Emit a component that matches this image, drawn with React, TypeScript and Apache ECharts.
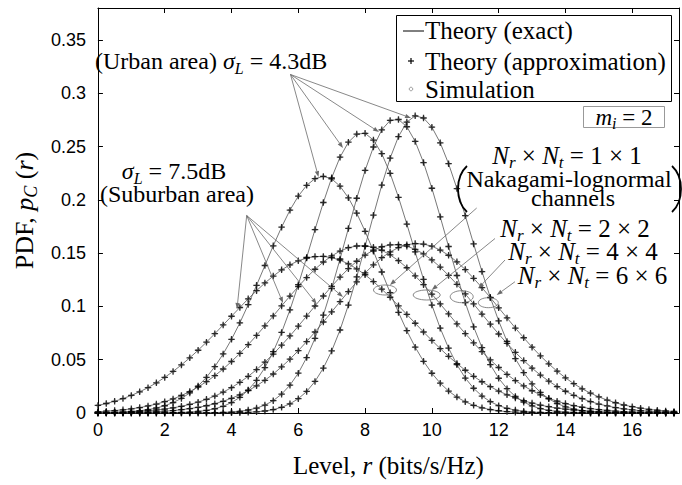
import React, { useEffect, useRef } from "react";
import * as echarts from "echarts";

// ---------- data ----------
const levels = [0,0.25,0.5,0.75,1,1.25,1.5,1.75,2,2.25,2.5,2.75,3,3.25,3.5,3.75,4,4.25,4.5,4.75,5,5.25,5.5,5.75,6,6.25,6.5,6.75,7,7.25,7.5,7.75,8,8.25,8.5,8.75,9,9.25,9.5,9.75,10,10.25,10.5,10.75,11,11.25,11.5,11.75,12,12.25,12.5,12.75,13,13.25,13.5,13.75,14,14.25,14.5,14.75,15,15.25,15.5,15.75,16,16.25,16.5,16.75,17,17.25];

// Urban area, sigma_L = 4.3 dB
const urban1x1 = [0.0002,0.0003,0.0005,0.0009,0.0014,0.0021,0.0032,0.0047,0.0068,0.0098,0.0137,0.0188,0.0253,0.0335,0.0435,0.0554,0.0691,0.0846,0.1017,0.1198,0.1384,0.1569,0.1744,0.1903,0.2035,0.2136,0.2199,0.222,0.2197,0.2128,0.2019,0.1875,0.1705,0.1518,0.1323,0.1129,0.0944,0.0772,0.0618,0.0485,0.0373,0.028,0.0206,0.0149,0.0105,0.0072,0.0049,0.0032,0.0021,0.0013,0.0008,0.0005,0.0003,0.0002,0.0001,0,0,0,0,0,0,0,0,0,0,0,0,0,0,0];
const urban2x2 = [0,0,0,0,0,0,0,0,0.0001,0.0003,0.0005,0.0008,0.0015,0.0024,0.004,0.0063,0.0098,0.0147,0.0215,0.0307,0.0426,0.0575,0.0756,0.0967,0.1204,0.1459,0.1721,0.1975,0.2207,0.24,0.2541,0.2617,0.2624,0.2561,0.2433,0.2249,0.2024,0.1773,0.1511,0.1254,0.1013,0.0796,0.0609,0.0453,0.0328,0.0232,0.0159,0.0106,0.0069,0.0044,0.0027,0.0016,0.0009,0.0005,0.0003,0.0002,0.0001,0,0,0,0,0,0,0,0,0,0,0,0,0];
const urban4x4 = [0,0,0,0,0,0,0,0,0,0,0,0,0,0,0.0003,0.0005,0.0009,0.0016,0.0028,0.0046,0.0074,0.0116,0.0177,0.0261,0.0374,0.052,0.0701,0.0919,0.117,0.1445,0.1732,0.2015,0.2276,0.2496,0.2657,0.2745,0.2754,0.2686,0.2548,0.235,0.2109,0.1841,0.1562,0.129,0.1036,0.0809,0.0614,0.0454,0.0326,0.0228,0.0155,0.0102,0.0066,0.0041,0.0025,0.0015,0.0009,0.0005,0.0003,0.0001,0.0001,0,0,0,0,0,0,0,0,0];
const urban6x6 = [0,0,0,0,0,0,0,0,0,0,0,0,0,0,0,0,0.0002,0.0003,0.0006,0.0011,0.0019,0.0032,0.0053,0.0086,0.0134,0.0202,0.0296,0.0421,0.0582,0.0779,0.1013,0.1277,0.1563,0.1856,0.2139,0.2391,0.2594,0.273,0.2788,0.2768,0.2682,0.2535,0.2339,0.2106,0.1851,0.1586,0.1327,0.1084,0.0864,0.0672,0.051,0.0378,0.0273,0.0193,0.0133,0.0089,0.0058,0.0037,0.0023,0.0014,0.0008,0.0005,0.0003,0.0002,0.0001,0,0,0,0,0];

// Suburban area, sigma_L = 7.5 dB
const suburban1x1 = [0.0071,0.0089,0.011,0.0135,0.0165,0.0199,0.0238,0.0283,0.0334,0.039,0.0451,0.0518,0.0589,0.0665,0.0744,0.0826,0.0908,0.099,0.1071,0.1148,0.122,0.1285,0.1343,0.139,0.1428,0.1454,0.1468,0.1469,0.1458,0.1434,0.1399,0.1353,0.1297,0.1233,0.1162,0.1086,0.1006,0.0925,0.0842,0.076,0.0681,0.0604,0.0532,0.0464,0.0401,0.0344,0.0293,0.0247,0.0206,0.0171,0.0141,0.0115,0.0093,0.0074,0.0059,0.0046,0.0036,0.0028,0.0021,0.0016,0.0012,0.0009,0.0007,0.0005,0.0004,0.0003,0.0002,0.0001,0.0001,0.0001];
const suburban2x2 = [0.0012,0.0017,0.0023,0.003,0.0039,0.0051,0.0066,0.0084,0.0106,0.0132,0.0164,0.0201,0.0244,0.0294,0.035,0.0413,0.0483,0.0559,0.0641,0.0728,0.0818,0.0911,0.1005,0.1097,0.1187,0.1271,0.1349,0.1417,0.1474,0.1519,0.1551,0.1567,0.1569,0.1555,0.1527,0.1484,0.1429,0.1363,0.1287,0.1204,0.1115,0.1023,0.093,0.0836,0.0745,0.0658,0.0575,0.0498,0.0427,0.0362,0.0304,0.0254,0.0209,0.0171,0.0138,0.0111,0.0088,0.0069,0.0054,0.0041,0.0032,0.0024,0.0018,0.0013,0.001,0.0007,0.0005,0.0004,0.0003,0.0002];
const suburban4x4 = [0.0003,0.0004,0.0006,0.0008,0.0012,0.0016,0.0021,0.0028,0.0037,0.0049,0.0063,0.008,0.0102,0.0128,0.0159,0.0196,0.0238,0.0288,0.0344,0.0407,0.0477,0.0553,0.0636,0.0723,0.0815,0.0909,0.1004,0.1098,0.1189,0.1275,0.1354,0.1424,0.1482,0.1528,0.156,0.1577,0.1579,0.1565,0.1536,0.1493,0.1436,0.1369,0.1291,0.1207,0.1117,0.1023,0.0928,0.0833,0.0741,0.0653,0.0569,0.0492,0.0421,0.0356,0.0299,0.0248,0.0204,0.0166,0.0134,0.0107,0.0084,0.0066,0.0051,0.0039,0.003,0.0022,0.0017,0.0012,0.0009,0.0007];
const suburban6x6 = [0.0001,0.0002,0.0002,0.0003,0.0005,0.0007,0.0009,0.0013,0.0017,0.0023,0.0031,0.0041,0.0053,0.0068,0.0087,0.011,0.0138,0.0171,0.021,0.0255,0.0307,0.0366,0.0433,0.0505,0.0585,0.067,0.076,0.0854,0.0949,0.1045,0.1139,0.123,0.1314,0.139,0.1457,0.1511,0.1552,0.1579,0.159,0.1585,0.1565,0.1529,0.148,0.1418,0.1346,0.1264,0.1176,0.1083,0.0987,0.0892,0.0797,0.0706,0.0618,0.0536,0.0461,0.0392,0.033,0.0275,0.0227,0.0186,0.0151,0.0121,0.0096,0.0075,0.0059,0.0045,0.0034,0.0026,0.0019,0.0014];

const curves = [urban1x1, urban2x2, urban4x4, urban6x6, suburban1x1, suburban2x2, suburban4x4, suburban6x6];

// ---------- styling helpers ----------
const SERIF = '"Liberation Serif", "Times New Roman", serif';
const SANS = '"Liberation Sans", Arial, sans-serif';
const PLUS = "path://M4,0h2v4h4v2h-4v4h-2v-4h-4v-2h4z";

function richFor(fs: number, useFill: boolean, lh?: number) {
  const lineH = lh ?? Math.round(fs * 1.25);
  const sub = Math.round(fs * 0.68);
  const col = useFill ? { fill: "#000" } : { color: "#000" };
  return {
    i: { fontFamily: SERIF, fontSize: fs, fontStyle: "italic", lineHeight: lineH, ...col },
    s: { fontFamily: SERIF, fontSize: sub, fontStyle: "italic", lineHeight: sub, verticalAlign: "bottom", ...col },
  };
}

function txt(x: number, y: number, text: string, fs: number, align: string = "left") {
  const lineH = Math.round(fs * 1.25);
  return {
    type: "text",
    x,
    y,
    silent: true,
    z: 100,
    style: {
      text,
      font: `${fs}px ${SERIF}`,
      fontFamily: SERIF,
      fontSize: fs,
      lineHeight: lineH,
      fill: "#000",
      align,
      verticalAlign: "middle",
      textAlign: align,
      textVerticalAlign: "middle",
      rich: richFor(fs, true, lineH),
    },
  };
}

function arrow(x1: number, y1: number, x2: number, y2: number) {
  const a = Math.atan2(y2 - y1, x2 - x1);
  const L = 6;
  const W = 2.2;
  const bx = x2 - L * Math.cos(a);
  const by = y2 - L * Math.sin(a);
  const px = -Math.sin(a) * W;
  const py = Math.cos(a) * W;
  return [
    { type: "line", silent: true, z: 90, shape: { x1, y1, x2: bx, y2: by }, style: { stroke: "#6a6a6a", lineWidth: 0.8 } },
    { type: "polygon", silent: true, z: 90, shape: { points: [[x2, y2], [bx + px, by + py], [bx - px, by - py]] }, style: { fill: "#6a6a6a" } },
  ];
}

function ellipse(cx: number, cy: number, rx: number, ry: number) {
  return { type: "ellipse", silent: true, z: 90, shape: { cx, cy, rx, ry }, style: { fill: "none", stroke: "#6a6a6a", lineWidth: 0.8 } };
}

function paren(xEnd: number, xMid: number) {
  return {
    type: "bezierCurve",
    silent: true,
    z: 100,
    shape: { x1: xEnd, y1: 166, cpx1: xMid, cpy1: 177, cpx2: xMid, cpy2: 201, x2: xEnd, y2: 212 },
    style: { fill: "none", stroke: "#000", lineWidth: 1.8 },
  };
}

function buildOption() {
  const points: number[][] = [];
  curves.forEach((c) => levels.forEach((x, i) => points.push([x, c[i]])));

  const lineSeries = curves.map((c) => ({
    type: "line",
    data: levels.map((x, i) => [x, c[i]]),
    symbol: "none",
    silent: true,
    z: 2,
    lineStyle: { color: "#555", width: 0.8 },
  }));

  const axisLineStyle = { show: true, onZero: false, lineStyle: { color: "#000", width: 1 } };
  const tickStyle = { inside: true, length: 5, lineStyle: { color: "#000", width: 1 } };

  const graphics: any[] = [];
  // legend
  graphics.push({ type: "rect", z: 95, silent: true, shape: { x: 396.5, y: 15.5, width: 275, height: 86 }, style: { fill: "#fff", stroke: "#000", lineWidth: 1 } });
  graphics.push({ type: "line", z: 96, silent: true, shape: { x1: 403, y1: 31, x2: 424, y2: 31 }, style: { stroke: "#000", lineWidth: 1 } });
  graphics.push({ type: "line", z: 96, silent: true, shape: { x1: 408, y1: 61, x2: 414, y2: 61 }, style: { stroke: "#000", lineWidth: 1.2 } });
  graphics.push({ type: "line", z: 96, silent: true, shape: { x1: 411, y1: 58, x2: 411, y2: 64 }, style: { stroke: "#000", lineWidth: 1.2 } });
  graphics.push({ type: "circle", z: 96, silent: true, shape: { cx: 411, cy: 89, r: 1.8 }, style: { fill: "none", stroke: "#888", lineWidth: 0.8 } });
  graphics.push(txt(425, 30, "Theory (exact)", 25));
  graphics.push(txt(425, 61, "Theory (approximation)", 25));
  graphics.push(txt(425, 89, "Simulation", 25));
  // m_i box
  graphics.push({ type: "rect", z: 95, silent: true, shape: { x: 583.5, y: 106.5, width: 81, height: 21 }, style: { fill: "#fff", stroke: "#999", lineWidth: 1 } });
  graphics.push(txt(624, 117, "{i|m}{s|i} = 2", 23, "center"));

  // urban / suburban annotations
  graphics.push(txt(95, 61, "(Urban area) {i|σ}{s|L} = 4.3dB", 24));
  graphics.push(txt(174, 171, "{i|σ}{s|L} = 7.5dB", 24, "center"));
  graphics.push(txt(177, 194, "(Suburban area)", 24, "center"));
  const uo = [290.5, 74.5];
  [[318.5, 177], [343, 148], [379, 132], [411, 118]].forEach((t) => graphics.push(...arrow(uo[0], uo[1], t[0], t[1])));
  const so = [246.7, 215.5];
  [[237, 309], [283, 303], [316.7, 304], [343, 297]].forEach((t) => graphics.push(...arrow(so[0], so[1], t[0], t[1])));

  // antenna configuration annotations
  graphics.push(txt(567, 155, "{i|N}{s|r} × {i|N}{s|t} = 1 × 1", 25, "center"));
  graphics.push(txt(569, 179, "Nakagami-lognormal", 24, "center"));
  graphics.push(txt(573, 198, "channels", 24, "center"));
  graphics.push(paren(467, 455));
  graphics.push(paren(672, 684));
  graphics.push(txt(575, 228, "{i|N}{s|r} × {i|N}{s|t} = 2 × 2", 25, "center"));
  graphics.push(txt(583, 251.5, "{i|N}{s|r} × {i|N}{s|t} = 4 × 4", 25, "center"));
  graphics.push(txt(592.5, 275, "{i|N}{s|r} × {i|N}{s|t} = 6 × 6", 25, "center"));
  graphics.push(...arrow(476.7, 208, 390, 285));
  graphics.push(...arrow(495, 238.5, 431.7, 290));
  graphics.push(...arrow(505, 260, 478.3, 288.3));
  graphics.push(...arrow(515, 281.7, 496.7, 295));
  graphics.push(ellipse(385, 290, 11.5, 5));
  graphics.push(ellipse(426.7, 295, 13.5, 5));
  graphics.push(ellipse(461.7, 296.7, 11.5, 6));
  graphics.push(ellipse(488.3, 302.7, 10, 5));

  return {
    animation: false,
    backgroundColor: "#fff",
    grid: { left: 92.7, right: 1, top: 8, bottom: 65 },
    xAxis: [
      {
        type: "value",
        min: 0,
        max: 17.4,
        interval: 2,
        position: "bottom",
        axisLine: axisLineStyle,
        axisTick: tickStyle,
        splitLine: { show: false },
        axisLabel: {
          color: "#000",
          fontFamily: SANS,
          fontSize: 18,
          margin: 8,
          formatter: (v: number) => (Math.abs(v / 2 - Math.round(v / 2)) < 1e-6 ? String(v) : ""),
        },
        name: "Level, {i|r} (bits/s/Hz)",
        nameLocation: "middle",
        nameGap: 37,
        nameTextStyle: { fontFamily: SERIF, fontSize: 25, color: "#000", lineHeight: 30, rich: richFor(25, false, 30) },
      },
      {
        type: "value",
        min: 0,
        max: 17.4,
        interval: 2,
        position: "top",
        axisLine: axisLineStyle,
        axisTick: tickStyle,
        axisLabel: { show: false },
        splitLine: { show: false },
      },
    ],
    yAxis: [
      {
        type: "value",
        min: 0,
        max: 0.38,
        interval: 0.05,
        position: "left",
        axisLine: axisLineStyle,
        axisTick: tickStyle,
        splitLine: { show: false },
        axisLabel: {
          color: "#000",
          fontFamily: SANS,
          fontSize: 18,
          margin: 12,
          formatter: (v: number) => {
            const k = v / 0.05;
            return Math.abs(k - Math.round(k)) < 1e-6 ? String(+v.toFixed(2)) : "";
          },
        },
        name: "PDF, {i|p}{s|C} ({i|r})",
        nameLocation: "middle",
        nameRotate: 90,
        nameGap: 52,
        nameTextStyle: { fontFamily: SERIF, fontSize: 26, color: "#000", lineHeight: 32, rich: richFor(26, false, 32) },
      },
      {
        type: "value",
        min: 0,
        max: 0.38,
        interval: 0.05,
        position: "right",
        axisLine: axisLineStyle,
        axisTick: tickStyle,
        axisLabel: { show: false },
        splitLine: { show: false },
      },
    ],
    series: [
      ...lineSeries,
      {
        type: "scatter",
        data: points,
        symbol: "circle",
        symbolSize: 3.2,
        silent: true,
        z: 3,
        itemStyle: { color: "rgba(255,255,255,0)", borderColor: "#8a8a8a", borderWidth: 0.8 },
      },
      {
        type: "scatter",
        data: points,
        symbol: PLUS,
        symbolSize: 6.5,
        silent: true,
        z: 4,
        itemStyle: { color: "#000" },
      },
    ],
    graphic: graphics,
  };
}

export default function App() {
  const ref = useRef<HTMLDivElement>(null);
  useEffect(() => {
    document.body.style.margin = "0";
    const chart = echarts.init(ref.current!, null, { renderer: "svg" });
    chart.setOption(buildOption() as any);
    return () => chart.dispose();
  }, []);
  return <div ref={ref} style={{ width: 682, height: 485 }} />;
}
